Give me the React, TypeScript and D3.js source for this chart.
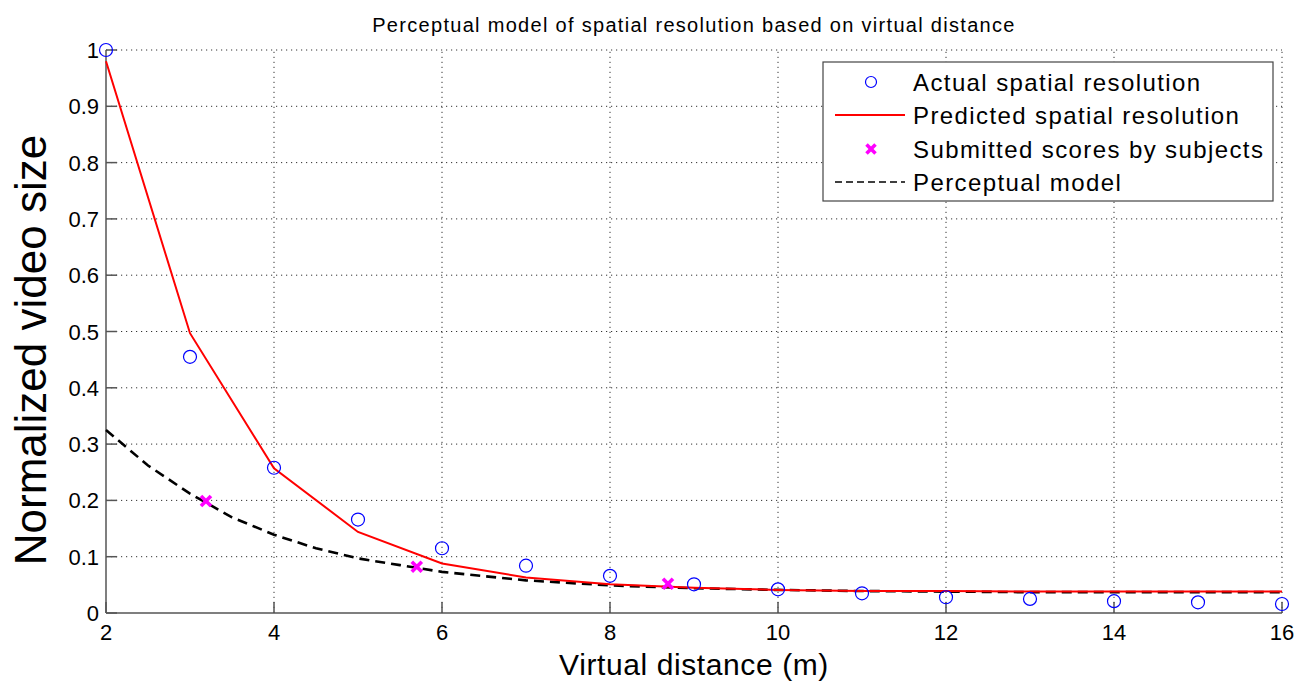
import React from "react";
import * as d3 from "d3";

const actualX = [2, 3, 4, 5, 6, 7, 8, 9, 10, 11, 12, 13, 14, 15, 16];
const actualY = [1.0, 0.455, 0.258, 0.166, 0.115, 0.084, 0.066, 0.051, 0.042, 0.035, 0.028, 0.025, 0.021, 0.019, 0.016];

const predictedX = [2, 3, 4, 5, 6, 7, 8, 9, 10, 11, 12, 13, 14, 15, 16];
const predictedY = [0.98, 0.497, 0.257, 0.144, 0.088, 0.063, 0.051, 0.045, 0.041, 0.039, 0.039, 0.038, 0.038, 0.038, 0.038];

const scoresX = [3.19, 5.7, 8.69];
const scoresY = [0.199, 0.082, 0.052];

const modelX = [2, 2.5, 3, 3.5, 4, 4.5, 5, 5.5, 6, 7, 8, 9, 10, 11, 12, 13, 14, 15, 16];
const modelY = [0.325, 0.262, 0.212, 0.17, 0.139, 0.115, 0.097, 0.085, 0.073, 0.058, 0.049, 0.044, 0.041, 0.039, 0.038, 0.037, 0.037, 0.037, 0.037];

const xTicks = [2, 4, 6, 8, 10, 12, 14, 16];
const yTicks = [0, 0.1, 0.2, 0.3, 0.4, 0.5, 0.6, 0.7, 0.8, 0.9, 1];

const legendLabels = [
  "Actual spatial resolution",
  "Predicted spatial resolution",
  "Submitted scores by subjects",
  "Perceptual model",
];

const W = 1296;
const H = 682;
const FONT = "'Liberation Sans', Arial, Helvetica, sans-serif";

export default function App() {
  const x = d3.scaleLinear().domain([2, 16]).range([106, 1282]);
  const y = d3.scaleLinear().domain([0, 1]).range([613, 50]);

  const predLine = d3
    .line<number>()
    .x((_, i) => x(predictedX[i]))
    .y((d) => y(d));
  const modelLine = d3
    .line<number>()
    .x((_, i) => x(modelX[i]))
    .y((d) => y(d));

  const gridColor = "#333";
  const axisColor = "#555";
  const cross = (cx: number, cy: number, s: number, key: string) => (
    <g key={key} stroke="#ff00ff" strokeWidth={3.6} strokeLinecap="butt">
      <line x1={cx - s} y1={cy - s} x2={cx + s} y2={cy + s} />
      <line x1={cx - s} y1={cy + s} x2={cx + s} y2={cy - s} />
    </g>
  );

  const legX = 823;
  const legY = 62;
  const legW = 450;
  const legH = 139;
  const rowYs = [82, 115, 149, 182];

  return (
    <svg
      width={W}
      height={H}
      style={{ position: "absolute", left: 0, top: 0, background: "#fff" }}
      fontFamily={FONT}
    >
      <rect x={0} y={0} width={W} height={H} fill="#fff" />
      {/* grid */}
      <g stroke={gridColor} strokeWidth={1} strokeDasharray="1.2,3.8" fill="none">
        {xTicks.slice(1).map((t) => (
          <line key={"gx" + t} x1={x(t)} x2={x(t)} y1={y(0)} y2={y(1)} />
        ))}
        {yTicks.slice(1).map((t) => (
          <line key={"gy" + t} x1={x(2)} x2={x(16)} y1={y(t)} y2={y(t)} />
        ))}
      </g>
      {/* axes */}
      <g stroke={axisColor} strokeWidth={1.5}>
        <line x1={x(2)} x2={x(2)} y1={y(0)} y2={y(1)} />
        <line x1={x(2)} x2={x(16)} y1={y(0)} y2={y(0)} />
        {xTicks.map((t) => (
          <line key={"tx" + t} x1={x(t)} x2={x(t)} y1={y(0)} y2={y(0) - 11} />
        ))}
        {yTicks.map((t) => (
          <line key={"ty" + t} x1={x(2)} x2={x(2) + 11} y1={y(t)} y2={y(t)} />
        ))}
      </g>
      {/* tick labels */}
      <g fontSize={22} fill="#000">
        {xTicks.map((t) => (
          <text key={"lx" + t} x={x(t)} y={y(0) + 27} textAnchor="middle">
            {d3.format("d")(t)}
          </text>
        ))}
        {yTicks.map((t) => (
          <text key={"ly" + t} x={x(2) - 7} y={y(t) + 8} textAnchor="end">
            {t === 0 || t === 1 ? String(t) : d3.format(".1f")(t)}
          </text>
        ))}
      </g>
      {/* series */}
      <path d={modelLine(modelY) || ""} fill="none" stroke="#000" strokeWidth={2.6} strokeDasharray="10,6" />
      <path d={predLine(predictedY) || ""} fill="none" stroke="#ff0000" strokeWidth={2} />
      {actualY.map((v, i) => (
        <circle key={"c" + i} cx={x(actualX[i])} cy={y(v)} r={6.5} fill="none" stroke="#0000ff" strokeWidth={1.2} />
      ))}
      {scoresY.map((v, i) => cross(x(scoresX[i]), y(v), 5, "s" + i))}
      {/* title & labels */}
      <text x={694} y={32} textAnchor="middle" fontSize={20} letterSpacing={1.3} fill="#000">
        Perceptual model of spatial resolution based on virtual distance
      </text>
      <text x={694} y={675} textAnchor="middle" fontSize={30} letterSpacing={0.6} fill="#000">
        Virtual distance (m)
      </text>
      <text
        transform={`translate(46, 350) rotate(-90)`}
        textAnchor="middle"
        fontSize={44}
        fill="#000"
      >
        Normalized video size
      </text>
      {/* legend */}
      <rect x={legX} y={legY} width={legW} height={legH} fill="#fff" stroke="#444" strokeWidth={1.2} />
      <circle cx={871} cy={rowYs[0]} r={5.5} fill="none" stroke="#0000ff" strokeWidth={1.2} />
      <line x1={835} x2={905} y1={rowYs[1]} y2={rowYs[1]} stroke="#ff0000" strokeWidth={2} />
      {cross(871, rowYs[2], 4.5, "legx")}
      <line x1={835} x2={905} y1={rowYs[3]} y2={rowYs[3]} stroke="#000" strokeWidth={1.5} strokeDasharray="7,4" />
      <g fontSize={24} letterSpacing={1.4} fill="#000">
        {legendLabels.map((l, i) => (
          <text key={l} x={913} y={rowYs[i] + 8.5}>
            {l}
          </text>
        ))}
      </g>
    </svg>
  );
}
